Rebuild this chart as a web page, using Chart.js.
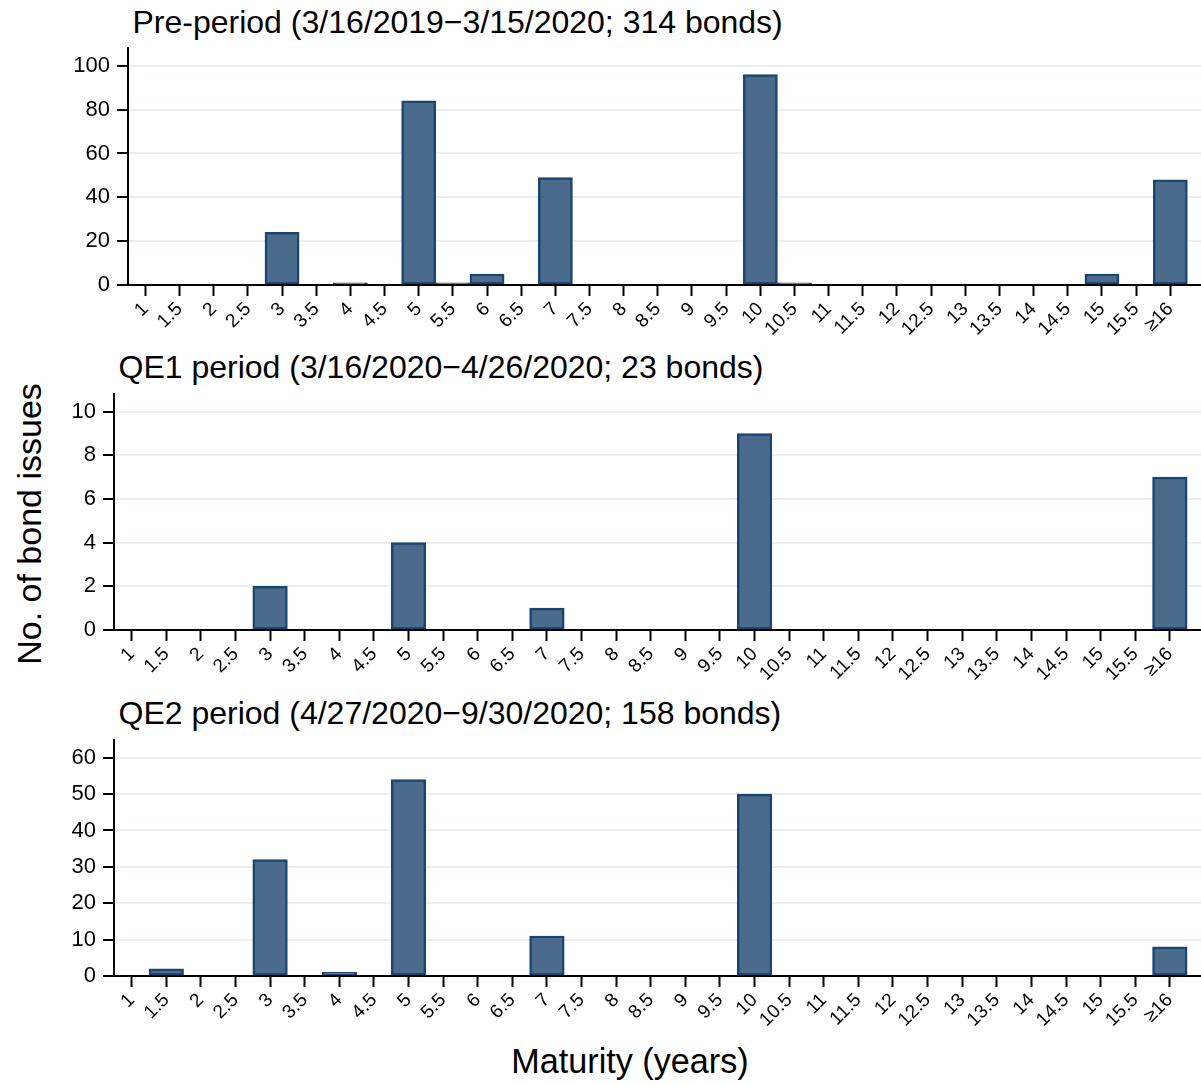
<!DOCTYPE html>
<html>
<head>
<meta charset="utf-8">
<script src="https://cdn.jsdelivr.net/npm/chart.js@4.4.1/dist/chart.umd.min.js"></script>
<style>
  html, body { margin: 0; padding: 0; background: #ffffff; }
  body { width: 1201px; height: 1085px; position: relative; overflow: hidden;
         font-family: "Liberation Sans", Arial, Helvetica, sans-serif; color: #000; }
  .txt { position: absolute; white-space: nowrap; line-height: 1; color: #000; }
  canvas { position: absolute; left: 0; }
</style>
</head>
<body>
<div class="txt" id="t1" style="left:132.5px; top:5.5px; font-size:32px;"></div>
<div class="txt" id="t2" style="left:118.5px; top:351.2px; font-size:32px;"></div>
<div class="txt" id="t3" style="left:118.5px; top:697px; font-size:32px;"></div>
<div class="txt" id="ytitle" style="left:29px; top:524px; font-size:34px; transform:translate(-50%,-50%) rotate(-90deg);"></div>
<div class="txt" id="xtitle" style="left:630px; top:1044px; font-size:34.2px; transform:translateX(-50%);"></div>

<canvas id="c1" width="1201" height="317" style="top:28px;"></canvas>
<canvas id="c2" width="1201" height="316" style="top:374px;"></canvas>
<canvas id="c3" width="1201" height="316" style="top:720px;"></canvas>

<script>
// ---- data ----
const maturityLabels = ['1','1.5','2','2.5','3','3.5','4','4.5','5','5.5','6','6.5','7','7.5',
  '8','8.5','9','9.5','10','10.5','11','11.5','12','12.5','13','13.5','14','14.5','15','15.5','\u226516'];

const preBonds = [0,0,0,0,24,0,1,0,84,1,5,0,49,0,0,0,0,0,96,1,0,0,0,0,0,0,0,0,5,0,48];
const qe1Bonds = [0,0,0,0,2,0,0,0,4,0,0,0,1,0,0,0,0,0,9,0,0,0,0,0,0,0,0,0,0,0,7];
const qe2Bonds = [0,2,0,0,32,0,1,0,54,0,0,0,11,0,0,0,0,0,50,0,0,0,0,0,0,0,0,0,0,0,8];

const preYTicks = [0,20,40,60,80,100];
const qe1YTicks = [0,2,4,6,8,10];
const qe2YTicks = [0,10,20,30,40,50,60];

const panelTitles = [
  'Pre-period (3/16/2019\u22123/15/2020; 314 bonds)',
  'QE1 period (3/16/2020\u22124/26/2020; 23 bonds)',
  'QE2 period (4/27/2020\u22129/30/2020; 158 bonds)'
];
const yAxisTitle = 'No. of bond issues';
const xAxisTitle = 'Maturity (years)';

document.getElementById('t1').textContent = panelTitles[0];
document.getElementById('t2').textContent = panelTitles[1];
document.getElementById('t3').textContent = panelTitles[2];
document.getElementById('ytitle').textContent = yAxisTitle;
document.getElementById('xtitle').textContent = xAxisTitle;

const FONT = '"Liberation Sans", Arial, Helvetica, sans-serif';
Chart.defaults.font.family = FONT;
Chart.defaults.color = '#000';

function makePanel(canvasId, values, yTicks, axisLeft) {
  return new Chart(document.getElementById(canvasId), {
    type: 'bar',
    data: {
      datasets: [{
        data: values.map((v, i) => ({ x: i, y: v })),
        backgroundColor: '#4a6b8c',
        borderColor: '#1b456e',
        borderWidth: 2.5,
        borderSkipped: false,
        barPercentage: 1.0,
        categoryPercentage: 1.0
      }]
    },
    options: {
      responsive: false,
      maintainAspectRatio: false,
      animation: false,
      layout: { padding: { top: 20, right: 0, bottom: 0, left: 0 } },
      plugins: { legend: { display: false }, tooltip: { enabled: false }, title: { display: false } },
      scales: {
        x: {
          type: 'linear',
          min: -0.51,
          max: 30.9,
          offset: false,
          grid: { display: true, drawOnChartArea: false, drawTicks: true, tickLength: 11,
                  tickColor: '#000', tickWidth: 2, offset: false },
          border: { display: true, color: '#000', width: 2 },
          ticks: {
            stepSize: 1, autoSkip: false, includeBounds: false,
            maxRotation: 45, minRotation: 45, padding: 2, color: '#000',
            font: { family: FONT, size: 19 },
            callback: (v) => maturityLabels[v]
          },
          afterBuildTicks: (s) => { s.ticks = maturityLabels.map((_, i) => ({ value: i })); },
          afterFit: (s) => { s.height = 60; }
        },
        y: {
          min: 0,
          max: yTicks[yTicks.length - 1] * 1.08,
          grid: { color: '#e8f0f3', lineWidth: 2, drawTicks: true, tickLength: 11,
                  tickColor: '#000', tickWidth: 2 },
          border: { display: true, color: '#000', width: 2 },
          ticks: { color: '#000', padding: 7, font: { family: FONT, size: 22 },
                   callback: (v) => String(v) },
          afterBuildTicks: (s) => { s.ticks = yTicks.map((v) => ({ value: v })); },
          afterFit: (s) => { s.width = axisLeft; }
        }
      }
    }
  });
}

makePanel('c1', preBonds, preYTicks, 128);
makePanel('c2', qe1Bonds, qe1YTicks, 114);
makePanel('c3', qe2Bonds, qe2YTicks, 114);
</script>
</body>
</html>
